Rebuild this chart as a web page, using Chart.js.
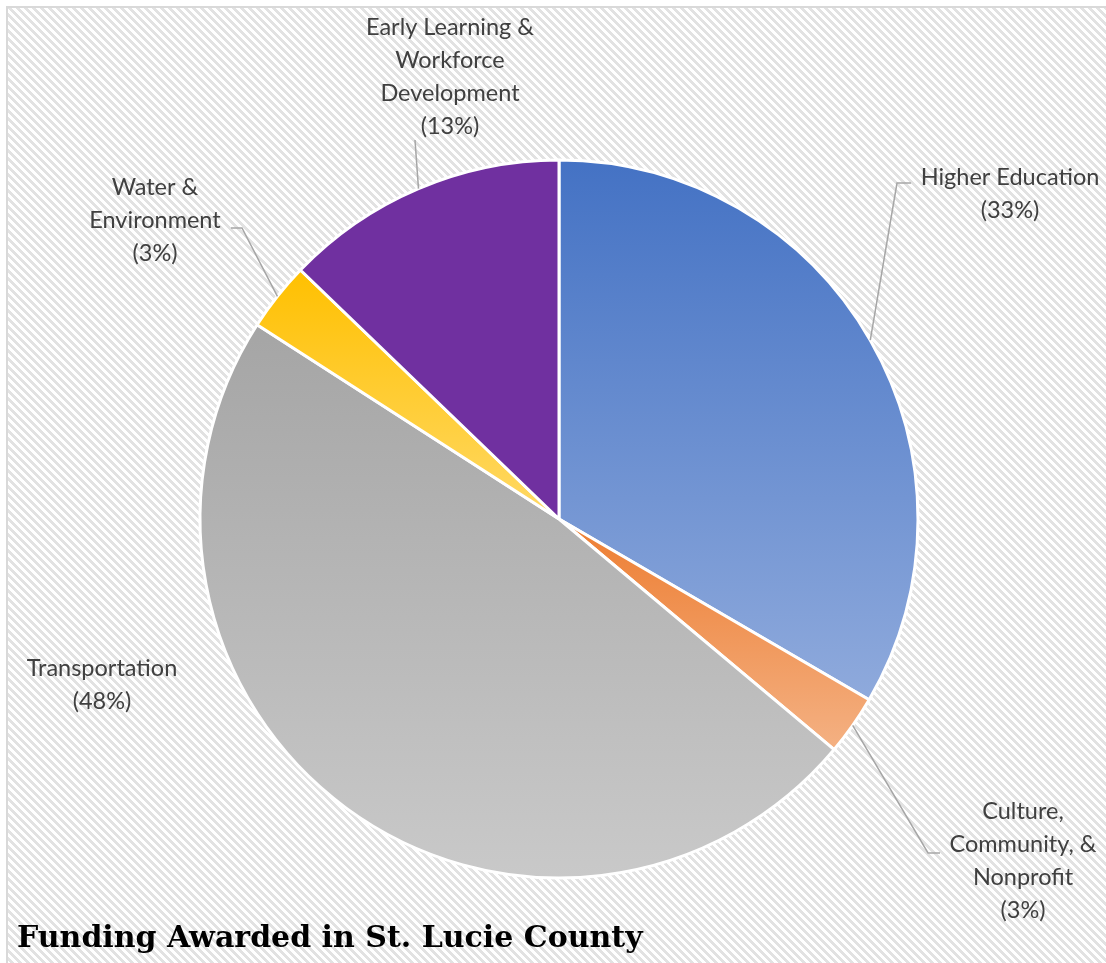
<!DOCTYPE html>
<html>
<head>
<meta charset="utf-8">
<script src="https://cdn.jsdelivr.net/npm/chart.js@4.4.1/dist/chart.umd.min.js"></script>
<style>
  html, body { margin: 0; padding: 0; background: #fff; }
  #wrap { width: 1106px; height: 963px; }
</style>
</head>
<body>
<div id="wrap"><canvas id="pie" width="1106" height="963"></canvas></div>
<script>
// funding share by area (clockwise from 12 o'clock)
const categories = [
    ["Higher Education"],
    ["Culture,", "Community, &", "Nonprofit"],
    ["Transportation"],
    ["Water &", "Environment"],
    ["Early Learning &", "Workforce", "Development"]
];
const shares = [33.4, 2.7, 48.0, 3.1, 12.8];

// gradient top / bottom colours per slice
const topColors = ["#4472C4", "#ED7D31", "#A5A5A5", "#FFC000", "#7030A0"];
const bottomColors = ["#8FAADC", "#F4B183", "#C9C9C9", "#FFD966", "#7030A0"];

const chartTitle = "Funding Awarded in St. Lucie County";

// label placement, relative to the pie centre: text block centre, elbow and end of leader line
const labelLayout = [
    { tx: 451, ty: -325, elbow: [338, -336], end: [352, -336] },
    { tx: 464, ty: 342, elbow: [369, 334], end: [381, 334] },
    { tx: -457, ty: 166, elbow: null, end: null },
    { tx: -404, ty: -299, elbow: [-317, -291], end: [-328, -291] },
    { tx: -109, ty: -442, elbow: [-144, -379], end: null }
];

const LABEL_FONT = '23.5px Lato';
const LINE_H = 33;
const BORDER_W = 3;

function hatchPattern(ctx) {
    const c = document.createElement('canvas');
    c.width = 8; c.height = 8;
    const p = c.getContext('2d');
    p.fillStyle = '#fff';
    p.fillRect(0, 0, 8, 8);
    p.fillStyle = '#E2E2E2';
    for (let y = 0; y < 8; y++) {
        for (let k = 0; k < 4; k++) {
            p.fillRect((y + k) % 8, y, 1, 1);
        }
    }
    return ctx.createPattern(c, 'repeat');
}

function sliceGradient(context) {
    const chart = context.chart;
    const i = context.dataIndex;
    const area = chart.chartArea;
    if (!area || context.type !== 'data') return topColors[i];
    const cy = (area.top + area.bottom) / 2;
    const r = (Math.min(area.right - area.left, area.bottom - area.top) - BORDER_W) / 2;
    const total = shares.reduce((a, b) => a + b, 0);
    let before = 0;
    for (let k = 0; k < i; k++) before += shares[k];
    const a0 = -Math.PI / 2 + before / total * 2 * Math.PI;
    const a1 = a0 + shares[i] / total * 2 * Math.PI;
    let yMin = cy, yMax = cy;
    for (let s = 0; s <= 60; s++) {
        const a = a0 + (a1 - a0) * s / 60;
        const y = cy + r * Math.sin(a);
        yMin = Math.min(yMin, y);
        yMax = Math.max(yMax, y);
    }
    const g = chart.ctx.createLinearGradient(0, yMin, 0, yMax);
    g.addColorStop(0, topColors[i]);
    g.addColorStop(1, bottomColors[i]);
    return g;
}

const backdrop = {
    id: 'backdrop',
    beforeDraw(chart) {
        const ctx = chart.ctx;
        ctx.save();
        ctx.fillStyle = '#fff';
        ctx.fillRect(0, 0, chart.width, chart.height);
        ctx.fillStyle = hatchPattern(ctx);
        ctx.fillRect(8, 8, chart.width - 8, chart.height - 8);
        ctx.strokeStyle = '#D9D9D9';
        ctx.lineWidth = 2;
        ctx.beginPath();
        ctx.moveTo(7, chart.height);
        ctx.lineTo(7, 7);
        ctx.lineTo(chart.width, 7);
        ctx.stroke();
        ctx.restore();
    }
};

const sliceLabels = {
    id: 'sliceLabels',
    afterDraw(chart) {
        const ctx = chart.ctx;
        const meta = chart.getDatasetMeta(0);
        const total = shares.reduce((a, b) => a + b, 0);
        ctx.save();
        meta.data.forEach((arc, i) => {
            const cx = arc.x, cy = arc.y;
            const lay = labelLayout[i];
            const mid = (arc.startAngle + arc.endAngle) / 2;
            const rEdge = arc.outerRadius;
            if (lay.elbow) {
                ctx.strokeStyle = '#A6A6A6';
                ctx.lineWidth = 1.5;
                ctx.beginPath();
                ctx.moveTo(cx + rEdge * Math.cos(mid), cy + rEdge * Math.sin(mid));
                ctx.lineTo(cx + lay.elbow[0], cy + lay.elbow[1]);
                if (lay.end) ctx.lineTo(cx + lay.end[0], cy + lay.end[1]);
                ctx.stroke();
            }
            const lines = categories[i].concat(['(' + Math.round(shares[i] / total * 100) + '%)']);
            ctx.font = LABEL_FONT;
            ctx.fillStyle = '#404040';
            ctx.textAlign = 'center';
            ctx.textBaseline = 'middle';
            const y0 = cy + lay.ty - (lines.length - 1) * LINE_H / 2;
            lines.forEach((t, k) => ctx.fillText(t, cx + lay.tx, y0 + k * LINE_H));
        });
        // chart title, bottom left
        ctx.font = 'bold 30px "DejaVu Serif"';
        ctx.fillStyle = '#000';
        ctx.textAlign = 'left';
        ctx.textBaseline = 'alphabetic';
        ctx.fillText(chartTitle, 17, 947);
        ctx.restore();
    }
};

new Chart(document.getElementById('pie'), {
    type: 'pie',
    data: {
        labels: categories.map(c => c.join(' ')),
        datasets: [{
            data: shares,
            backgroundColor: sliceGradient,
            borderColor: '#fff',
            borderWidth: BORDER_W
        }]
    },
    options: {
        responsive: false,
        animation: false,
        layout: { padding: { left: 198.5, right: 186.5, top: 158.5, bottom: 83.5 } },
        plugins: {
            legend: { display: false },
            tooltip: { enabled: false },
            title: { display: false }
        }
    },
    plugins: [backdrop, sliceLabels]
});
</script>
</body>
</html>
